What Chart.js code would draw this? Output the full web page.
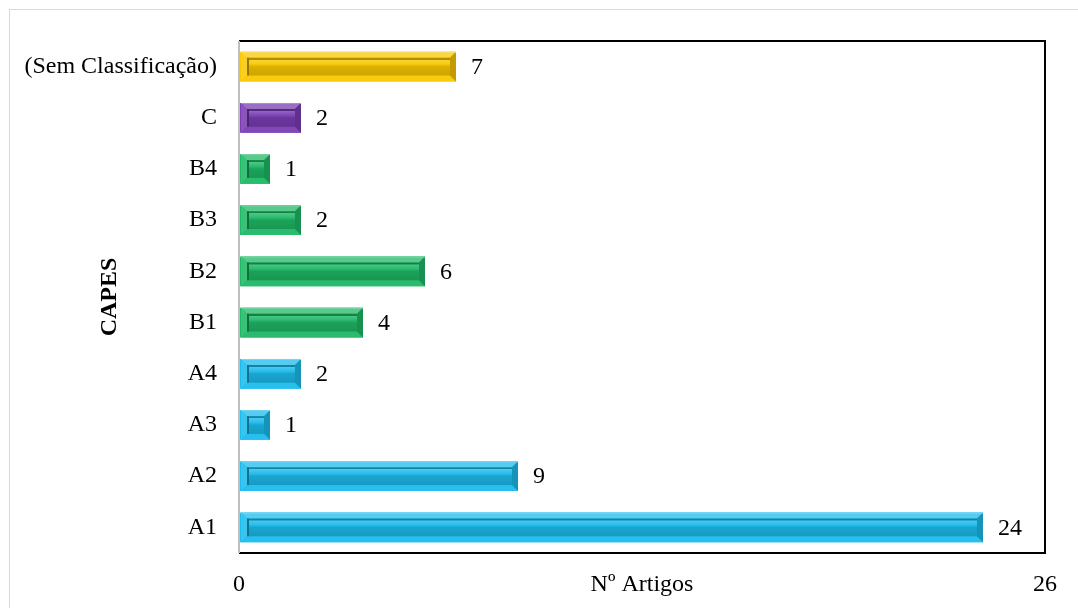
<!DOCTYPE html>
<html>
<head>
  <meta charset="utf-8">
  <title>CAPES - Nº Artigos</title>
  <script src="https://cdn.jsdelivr.net/npm/chart.js"></script>
  <style>
    body { margin: 0; background: #fff; }
    #box { width: 1078px; height: 608px; }
  </style>
</head>
<body>
  <div id="box"><canvas id="myChart" width="1078" height="608"></canvas></div>
  <script>
    // data, bottom to top as in the picture
    var categories = ['A1', 'A2', 'A3', 'A4', 'B1', 'B2', 'B3', 'B4', 'C', '(Sem Classificação)'];
    var artigos = [24, 9, 1, 2, 4, 6, 2, 1, 2, 7];
    var xTicks = [0, 26];

    var BLUE = '#1cbcec', GREEN = '#1fb866', PURPLE = '#7a3db3', GOLD = '#f9c800';
    var barColors = [BLUE, BLUE, BLUE, BLUE, GREEN, GREEN, GREEN, GREEN, PURPLE, GOLD];
    var SERIF = '"Liberation Serif", "Times New Roman", serif';

    function shade(hex, f) {
      var r = parseInt(hex.substr(1, 2), 16), g = parseInt(hex.substr(3, 2), 16), b = parseInt(hex.substr(5, 2), 16);
      var t = f < 0 ? 0 : 255, p = Math.abs(f);
      r = Math.round((t - r) * p + r); g = Math.round((t - g) * p + g); b = Math.round((t - b) * p + b);
      return 'rgb(' + r + ',' + g + ',' + b + ')';
    }

    function poly(ctx, pts, color) {
      ctx.beginPath();
      ctx.moveTo(pts[0][0], pts[0][1]);
      for (var i = 1; i < pts.length; i++) ctx.lineTo(pts[i][0], pts[i][1]);
      ctx.closePath();
      ctx.fillStyle = color;
      ctx.fill();
    }

    // outer light frame + plot box
    var framePlugin = {
      id: 'frame',
      beforeDraw: function(chart) {
        var ctx = chart.ctx;
        ctx.save();
        ctx.strokeStyle = '#d9d9d9';
        ctx.lineWidth = 1;
        ctx.strokeRect(9.5, 9.5, 1200, 800);
        ctx.restore();
      },
      afterDatasetsDraw: function(chart) {
        var a = chart.chartArea, ctx = chart.ctx;
        ctx.save();
        ctx.lineWidth = 2;
        ctx.strokeStyle = '#000';
        ctx.beginPath();
        ctx.moveTo(a.left, a.top);
        ctx.lineTo(a.right, a.top);
        ctx.lineTo(a.right, a.bottom);
        ctx.lineTo(a.left, a.bottom);
        ctx.stroke();
        ctx.strokeStyle = '#bfbfbf';
        ctx.beginPath();
        ctx.moveTo(a.left, a.top);
        ctx.lineTo(a.left, a.bottom);
        ctx.stroke();
        ctx.restore();
      }
    };

    // bevel look on each bar + value labels
    var bevelPlugin = {
      id: 'bevel',
      afterDatasetsDraw: function(chart) {
        var ctx = chart.ctx;
        var meta = chart.getDatasetMeta(0);
        ctx.save();
        meta.data.forEach(function(bar, i) {
          var p = bar.getProps(['x', 'y', 'base', 'height'], true);
          var l = Math.min(p.base, p.x) + 2, r = Math.max(p.base, p.x);
          var t = p.y - p.height / 2, btm = p.y + p.height / 2;
          var c = barColors[i];
          var b = Math.min(6, (r - l) / 3);
          poly(ctx, [[l, t], [r, t], [r - b, t + b], [l + b, t + b]], shade(c, 0.25));
          poly(ctx, [[l, t], [l + b, t + b], [l + b, btm - b], [l, btm]], shade(c, 0.12));
          poly(ctx, [[l, btm], [l + b, btm - b], [r - b, btm - b], [r, btm]], shade(c, 0.05));
          poly(ctx, [[r, t], [r, btm], [r - b, btm - b], [r - b, t + b]], shade(c, -0.22));
          var ih = btm - t - 2 * b;
          var g = ctx.createLinearGradient(0, t + b, 0, btm - b);
          g.addColorStop(0, shade(c, -0.3));
          g.addColorStop(0.1, shade(c, -0.3));
          g.addColorStop(0.12, shade(c, 0.2));
          g.addColorStop(0.35, shade(c, 0.05));
          g.addColorStop(0.5, shade(c, -0.12));
          g.addColorStop(1, shade(c, -0.18));
          ctx.fillStyle = g;
          ctx.fillRect(l + b, t + b, r - l - 2 * b, ih);
          ctx.fillStyle = shade(c, -0.4);
          ctx.fillRect(l + b, t + b, 2, ih);
          ctx.fillStyle = shade(c, 0.4);
          ctx.fillRect(l, t, r - l, 1);

          ctx.fillStyle = '#000';
          ctx.font = '24px ' + SERIF;
          ctx.textAlign = 'left';
          ctx.textBaseline = 'middle';
          ctx.fillText(String(artigos[i]), r + 15, p.y + 1);
        });
        ctx.restore();
      }
    };

    var ctx = document.getElementById('myChart').getContext('2d');
    var myChart = new Chart(ctx, {
      type: 'bar',
      data: {
        labels: categories,
        datasets: [{
          label: 'Nº Artigos',
          data: artigos,
          backgroundColor: barColors,
          borderWidth: 0,
          barPercentage: 0.58,
          categoryPercentage: 1
        }]
      },
      options: {
        indexAxis: 'y',
        responsive: false,
        animation: false,
        layout: { padding: { top: 41, right: 33, left: 0, bottom: 0 } },
        plugins: {
          legend: { display: false },
          tooltip: { enabled: false }
        },
        scales: {
          x: {
            min: 0,
            max: 26,
            afterBuildTicks: function(scale) {
              scale.ticks = xTicks.map(function(v) { return { value: v }; });
            },
            afterFit: function(scale) { scale.height = 55; },
            grid: { display: false, drawTicks: false },
            border: { display: false },
            ticks: {
              padding: 17,
              maxRotation: 0,
              color: '#000',
              font: { family: SERIF, size: 24 }
            },
            title: {
              display: true,
              text: 'Nº Artigos',
              color: '#000',
              padding: { top: 0, bottom: 9 },
              font: { family: SERIF, size: 24 }
            }
          },
          y: {
            reverse: true,
            afterFit: function(scale) { scale.width = 239; },
            grid: { display: false, drawTicks: false },
            border: { display: false },
            ticks: {
              padding: 22,
              color: '#000',
              font: { family: SERIF, size: 24 }
            },
            title: {
              display: true,
              text: 'CAPES',
              color: '#000',
              padding: { top: 95, bottom: 0 },
              font: { family: SERIF, size: 24, weight: 'bold' }
            }
          }
        }
      },
      plugins: [framePlugin, bevelPlugin]
    });
  </script>
</body>
</html>
